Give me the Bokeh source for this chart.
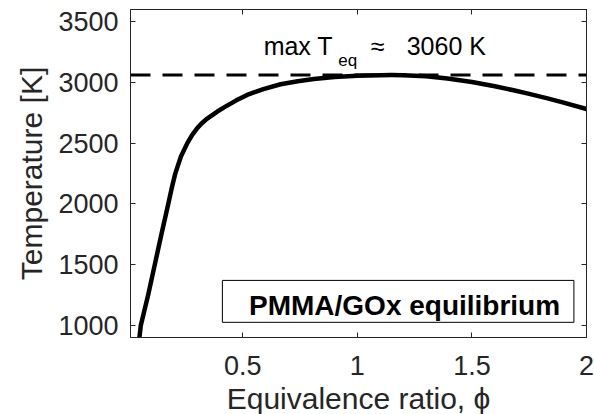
from bokeh.plotting import figure
from bokeh.models import Range1d, FixedTicker, LinearAxis, Span, BoxAnnotation, Label
from bokeh.embed import file_html
from bokeh.resources import INLINE

# Adiabatic flame temperature of PMMA burning with gaseous oxygen
phi = [0.049, 0.055, 0.087, 0.116, 0.145, 0.175, 0.19, 0.205, 0.23, 0.258,
       0.28, 0.30, 0.32, 0.34, 0.389, 0.424, 0.47, 0.519, 0.59, 0.665,
       0.74, 0.81, 0.90, 1.0, 1.1, 1.15, 1.2, 1.3, 1.393, 1.5,
       1.6, 1.682, 1.75, 1.83, 1.9, 2.0]
temperature = [900, 1000, 1250, 1500, 1750, 2000, 2130, 2247, 2390, 2500,
               2570, 2620, 2662, 2695, 2760, 2800, 2850, 2897, 2945, 2985,
               3010, 3028, 3044, 3054, 3059, 3060, 3059, 3050, 3032, 3003,
               2968, 2935, 2905, 2868, 2833, 2781]

T_MAX_EQ = 3060
legend_text = "PMMA/GOx equilibrium"
x_label = "Equivalence ratio, ϕ"
y_label = "Temperature [K]"

x_ticks = [0.5, 1, 1.5, 2]
x_tick_labels = ["0.5", "1", "1.5", "2"]
y_ticks = [1000, 1500, 2000, 2500, 3000, 3500]
y_tick_labels = ["1000", "1500", "2000", "2500", "3000", "3500"]

AX = "#262626"
FONT = "Liberation Sans"

p = figure(frame_width=456, frame_height=328,
           min_border_left=130, min_border_right=8,
           min_border_top=9, min_border_bottom=77,
           x_range=Range1d(0.01, 2), y_range=Range1d(900, 3600),
           output_backend="svg", toolbar_location=None)
p.grid.visible = False
p.background_fill_color = "white"
p.border_fill_color = "white"
p.outline_line_color = AX
p.outline_line_width = 1

p.add_layout(LinearAxis(), "above")
p.add_layout(LinearAxis(), "right")


def style_axis(ax, ticks, labels, show_labels, standoff):
    ax.ticker = FixedTicker(ticks=ticks)
    ax.major_tick_in = 5
    ax.major_tick_out = 0
    ax.minor_tick_line_color = None
    ax.axis_line_color = AX
    ax.axis_line_width = 1
    ax.major_tick_line_color = AX
    ax.major_tick_line_width = 1
    ax.major_label_text_font = FONT
    if show_labels:
        ax.major_label_overrides = dict(zip(ticks, labels))
        ax.major_label_text_color = AX
        ax.major_label_text_font_size = "27px"
        ax.major_label_standoff = standoff
    else:
        # mirrored ticks only, no numbers
        ax.major_label_text_color = None
        ax.major_label_text_font_size = "1px"
        ax.major_label_standoff = 0


x_bottom, x_top = p.below[0], p.above[0]
y_left, y_right = p.left[0], p.right[0]
style_axis(x_bottom, x_ticks, x_tick_labels, True, 18)
style_axis(x_top, x_ticks, x_tick_labels, False, 0)
style_axis(y_left, y_ticks, y_tick_labels, True, 12)
style_axis(y_right, y_ticks, y_tick_labels, False, 0)

x_bottom.axis_label = x_label
y_left.axis_label = y_label
for ax in (x_bottom, y_left):
    ax.axis_label_text_font = FONT
    ax.axis_label_text_font_size = "30px"
    ax.axis_label_text_font_style = "normal"
    ax.axis_label_text_color = AX
x_bottom.axis_label_standoff = 4
y_left.axis_label_standoff = 7

# equilibrium temperature curve
p.line(phi, temperature, line_color="black", line_width=4.5,
       line_join="round", line_cap="round")

# maximum temperature marker
p.add_layout(Span(location=T_MAX_EQ, dimension="width", line_color="black",
                  line_width=3, line_dash="20 12"))

ann_font = "25px"
p.add_layout(Label(x=0.591, y=3303, text="max T", text_font=FONT,
                   text_font_size=ann_font, text_color="black",
                   text_align="left", text_baseline="alphabetic"))
p.add_layout(Label(x=0.917, y=3180, text="eq", text_font=FONT,
                   text_font_size="17px", text_color="black",
                   text_align="left", text_baseline="alphabetic"))
p.add_layout(Label(x=1.088, y=3303, text="≈", text_font=FONT,
                   text_font_size=ann_font, text_color="black",
                   text_align="center", text_baseline="alphabetic"))
p.add_layout(Label(x=1.561, y=3303, text=f"{T_MAX_EQ} K", text_font=FONT,
                   text_font_size=ann_font, text_color="black",
                   text_align="right", text_baseline="alphabetic"))

# legend box
p.add_layout(BoxAnnotation(left=0.411, right=1.945, bottom=1025, top=1370,
                           fill_color="white", fill_alpha=1.0,
                           line_color="black", line_width=1, line_alpha=1.0))
p.add_layout(Label(x=1.206, y=1163, text=legend_text, text_font=FONT,
                   text_font_size="28px", text_font_style="bold",
                   text_color="black", text_align="center",
                   text_baseline="alphabetic"))

open("out.html", "w").write(file_html(p, INLINE))
